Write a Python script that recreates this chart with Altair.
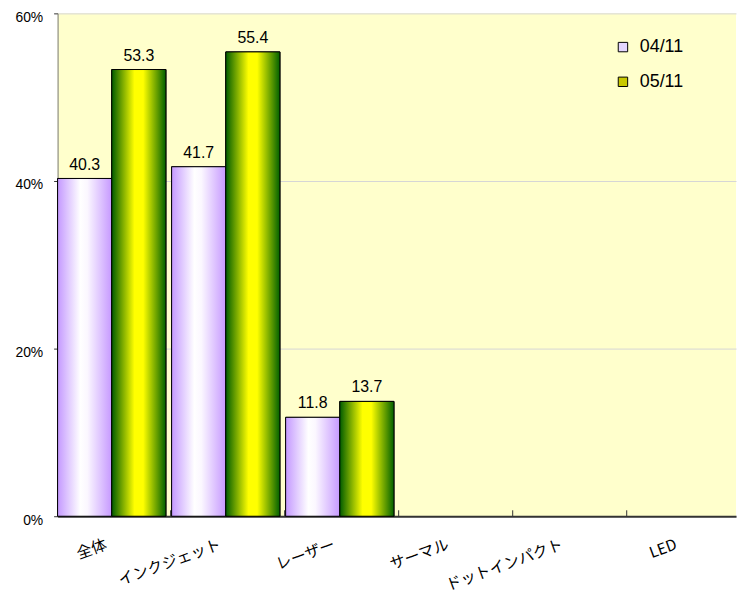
import altair as alt
import pandas as pd

categories = ["全体", "インクジェット", "レーザー", "サーマル", "ドットインパクト", "LED"]
series = ["04/11", "05/11"]
values_0411 = [40.3, 41.7, 11.8, None, None, None]
values_0511 = [53.3, 55.4, 13.7, None, None, None]
y_ticks = [0, 20, 40, 60]

rows = []
for s, vals in zip(series, [values_0411, values_0511]):
    for c, v in zip(categories, vals):
        if v is not None:
            rows.append({"cat": c, "series": s, "value": v})
df = pd.DataFrame(rows)
tick_df = pd.DataFrame({"cat": categories[1:]})

x_scale = alt.Scale(domain=categories, paddingInner=0.05, paddingOuter=0)
x_axis = alt.Axis(
    title=None, labelAngle=-20, labelAlign="right", labelBaseline="top",
    labelOffset=-8, labelPadding=21, labelFont="Noto Sans CJK JP",
    labelFontSize=15.5, labelColor="black", ticks=False,
    domainColor="#333333", domainWidth=2, labelLimit=0,
)
x = alt.X("cat:N", scale=x_scale, axis=x_axis)
y = alt.Y(
    "value:Q",
    scale=alt.Scale(domain=[0, 60], nice=False),
    axis=alt.Axis(
        values=y_ticks, labelExpr="datum.value + '%'", title=None, grid=True,
        gridColor="#D6D6D6", tickSize=4, tickColor="#333333",
        domainColor="#777777", labelFontSize=14, labelFont="Liberation Sans",
        labelPadding=11, labelColor="black", labelOffset=4,
    ),
)
xoff = alt.XOffset("series:N", scale=alt.Scale(domain=series, paddingInner=0, paddingOuter=0))

base = alt.Chart(df).mark_bar(stroke="black", strokeWidth=1).encode(
    x=x, y=y, xOffset=xoff,
    color=alt.Color(
        "series:N",
        scale=alt.Scale(domain=series, range=["#E4D6FF", "#C8C800"]),
        legend=alt.Legend(
            title=None, orient="none", legendX=561, legendY=25,
            labelFontSize=18, labelFont="Liberation Sans", labelColor="black",
            symbolType="square", symbolSize=90, symbolStrokeColor="black",
            symbolStrokeWidth=1, rowPadding=17, labelOffset=8,
        ),
    ),
)

grad_a = alt.Gradient(
    gradient="linear", x1=0, x2=1, y1=0, y2=0,
    stops=[
        alt.GradientStop(offset=0, color="#C499FF"),
        alt.GradientStop(offset=0.42, color="#FFFFFF"),
        alt.GradientStop(offset=0.55, color="#FBF7FF"),
        alt.GradientStop(offset=1, color="#C699FF"),
    ],
)
grad_b = alt.Gradient(
    gradient="linear", x1=0, x2=1, y1=0, y2=0,
    stops=[
        alt.GradientStop(offset=0, color="#005C00"),
        alt.GradientStop(offset=0.42, color="#FFFF00"),
        alt.GradientStop(offset=0.58, color="#FFFF00"),
        alt.GradientStop(offset=1, color="#006000"),
    ],
)

layer_a = alt.Chart(df).transform_filter(alt.datum.series == series[0]).mark_bar(
    fill=grad_a, stroke="black", strokeWidth=1
).encode(x=x, y=y, xOffset=xoff)
layer_b = alt.Chart(df).transform_filter(alt.datum.series == series[1]).mark_bar(
    fill=grad_b, stroke="black", strokeWidth=1
).encode(x=x, y=y, xOffset=xoff)

labels = alt.Chart(df).mark_text(
    baseline="bottom", dy=-6, fontSize=16, font="Liberation Sans", color="black"
).encode(x=x, y=y, xOffset=xoff, text=alt.Text("value:Q", format=".1f"))

ticks = alt.Chart(tick_df).mark_rule(color="#333333", xOffset=-1).encode(
    x=alt.X("cat:N", scale=x_scale, axis=x_axis, bandPosition=0),
    y=alt.value(507), y2=alt.value(501),
)

chart = alt.layer(base, layer_a, layer_b, labels, ticks).properties(
    width=684, height=507,
    autosize=alt.AutoSizeParams(type="none"),
    padding={"left": 50, "top": 3, "right": 3, "bottom": 77},
    background="white",
).configure_view(fill="#FFFFCC", strokeWidth=0)

chart.save("out.html", embed_options={"renderer": "svg", "actions": False})
